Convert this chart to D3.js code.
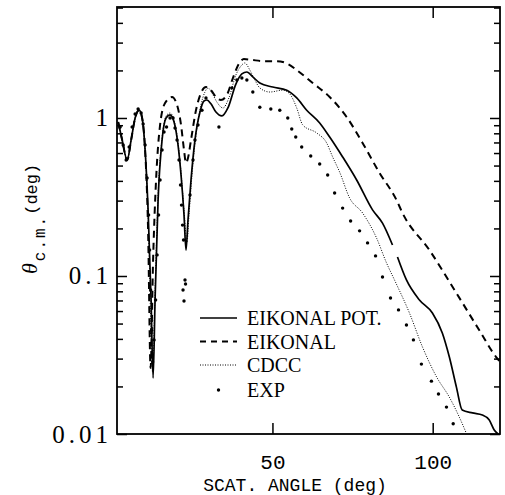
<!DOCTYPE html>
<html><head><meta charset="utf-8">
<script src="https://cdn.jsdelivr.net/npm/d3@7"></script>
<style>body{margin:0;background:#fff}svg{display:block}</style>
</head><body>
<script>
// ---- data ----
const potDeg = [1.87,3.11,4.67,5.91,7.16,8.40,9.34,10.27,11.20,12.14,12.76,13.38,14.32,15.56,16.81,18.05,19.30,20.54,21.48,22.41,23.03,23.65,24.59,25.83,27.39,28.63,29.57,30.81,32.37,34.24,36.10,38.59,40.46,42.02,43.88,46.06,50.11,54.47,57.58,60.69,64.74,67.86,71.90,76.28,81.23,84.34,87.46,88.2,89.01,91.81,95.86,99.91,103.0,105.2,107.4,109.2,112.4,115.5,117.6,119.2,120.4];
const potVal = [0.943,0.726,0.542,0.726,1.0,1.12,1.0,0.627,0.262,0.0705,0.0226,0.0705,0.303,0.726,1.0,1.045,0.943,0.675,0.436,0.243,0.146,0.226,0.405,0.726,1.09,1.28,1.30,1.23,1.09,1.03,1.157,1.64,1.90,1.955,1.82,1.665,1.57,1.50,1.34,1.12,0.93,0.758,0.567,0.405,0.262,0.216,0.157,null,0.132,0.0944,0.0705,0.0583,0.0436,0.0307,0.0198,0.0142,0.0136,0.0132,0.0123,0.0106,0.01];

const eikDeg = [1.87,3.11,4.67,5.91,7.16,8.40,9.34,10.27,11.20,11.98,12.76,13.69,14.94,16.50,18.67,20.23,21.48,22.41,23.03,23.65,24.59,26.14,27.70,29.26,30.81,32.37,33.92,35.79,37.66,39.53,41.08,43.57,47.62,51.35,54.78,57.58,62.56,67.86,73.14,78.12,83.41,88.70,90.57,98.97,107.4,114.5,119.8,120.8];
const eikVal = [0.943,0.726,0.542,0.726,1.0,1.12,1.0,0.627,0.195,0.0262,0.126,0.405,0.903,1.244,1.358,1.21,0.903,0.627,0.519,0.558,0.726,1.12,1.44,1.57,1.50,1.358,1.30,1.40,1.79,2.20,2.36,2.33,2.29,2.29,2.20,2.01,1.665,1.358,1.015,0.695,0.449,0.303,0.2505,0.146,0.078,0.0455,0.0307,0.029];

const cdccDeg = [1.87,3.11,4.67,5.91,7.16,8.40,9.34,10.27,11.20,12.61,13.38,14.32,15.56,16.81,18.05,19.30,20.54,21.48,22.41,23.34,23.97,24.90,26.14,27.70,28.94,29.88,31.12,32.68,34.55,36.41,38.59,40.15,41.39,42.95,44.51,46.06,49.18,53.22,55.40,57.58,59.45,63.80,66.91,68.78,70.96,74.07,78.12,82.48,85.59,88.08,92.75,96.80,101.2,105.2,108.3,110.5];
const cdccVal = [0.943,0.726,0.542,0.726,1.0,1.12,1.0,0.627,0.243,0.0247,0.0815,0.326,0.747,1.03,1.075,0.971,0.695,0.455,0.262,0.164,0.243,0.436,0.78,1.21,1.46,1.55,1.44,1.26,1.157,1.34,1.87,2.13,2.23,2.01,1.74,1.55,1.46,1.50,1.42,1.157,0.903,0.804,0.695,0.567,0.455,0.312,0.2505,0.174,0.121,0.0944,0.0583,0.0356,0.023,0.0171,0.0128,0.0101];

const expDeg = [2.49,3.42,4.36,5.29,6.22,7.16,8.09,9.03,9.65,10.27,10.89,11.36,11.67,11.98,12.29,12.61,13.07,13.54,14.01,14.47,14.94,15.56,16.18,16.96,18.05,18.99,19.61,20.23,20.85,21.32,21.63,21.94,22.26,22.72,22.88,22.10,22.41,24.28,25.21,25.83,26.77,28.01,29.26,33.30,37.35,38.90,40.46,42.02,43.88,46.06,49.49,52.29,54.78,56.02,57.27,59.13,61.94,64.74,67.23,69.40,71.90,74.39,77.19,79.68,82.17,84.34,86.84,89.33,91.81,93.99,96.48,99.60,101.8,104.3,106.4];
const expVal = [0.877,0.675,0.542,0.655,0.877,1.06,1.14,1.075,0.916,0.675,0.417,0.243,0.146,0.0815,0.0455,0.0286,0.0394,0.0705,0.136,0.243,0.405,0.627,0.815,0.877,1.0,1.0,0.864,0.726,0.542,0.377,0.281,0.21,0.169,0.0944,0.089,0.0815,0.0695,0.326,0.542,0.726,0.903,1.12,1.34,0.877,1.55,1.74,1.79,1.74,1.46,1.17,1.14,1.12,1.0,0.852,0.758,0.655,0.575,0.512,0.436,0.335,0.269,0.223,0.193,0.162,0.134,0.0986,0.0726,0.061,0.049,0.0394,0.0277,0.0216,0.0179,0.0148,0.0116];

const xTicks = [50, 100];
const yMajorTicks = [0.01, 0.1, 1];
const yTickLabels = ["0.01", "0.1", "1"];
const legendLabels = ["EIKONAL POT.", "EIKONAL", "CDCC", "EXP"];

// ---- drawing ----
const W = 505, H = 495;
const L = 117, R = 500, T = 7, B = 434;
const svg = d3.select("body").append("svg").attr("width", W).attr("height", H);

const x = d3.scaleLinear().domain([1.5, 121]).range([L, R]);
const y = d3.scaleLog().domain([0.01, 5.04]).range([B, T]);

const toPts = (xs, ys) => xs.map((d, i) => [d, ys[i]]);
svg.append("clipPath").attr("id", "c").append("rect")
  .attr("x", L).attr("y", T).attr("width", R - L).attr("height", B - T);
const g = svg.append("g").attr("clip-path", "url(#c)");

const line = d3.line()
  .defined(d => d[1] != null)
  .x(d => x(d[0])).y(d => y(d[1]))
  .curve(d3.curveMonotoneX);

g.append("path").datum(toPts(potDeg, potVal)).attr("d", line)
  .attr("fill", "none").attr("stroke", "#000").attr("stroke-width", 1.7);
g.append("path").datum(toPts(eikDeg, eikVal)).attr("d", line)
  .attr("fill", "none").attr("stroke", "#000").attr("stroke-width", 2)
  .attr("stroke-dasharray", "7,5");
g.append("path").datum(toPts(cdccDeg, cdccVal)).attr("d", line)
  .attr("fill", "none").attr("stroke", "#000").attr("stroke-width", 1)
  .attr("stroke-dasharray", "1,1.5");
g.selectAll("circle.exp").data(toPts(expDeg, expVal)).join("circle")
  .attr("class", "exp").attr("cx", d => x(d[0])).attr("cy", d => y(d[1]))
  .attr("r", 1.7).attr("fill", "#000");

// frame
svg.append("rect").attr("x", L).attr("y", T).attr("width", R - L).attr("height", B - T)
  .attr("fill", "none").attr("stroke", "#000").attr("stroke-width", 1.8);

// y minor ticks
const yMinor = [];
[0.01, 0.1, 1].forEach(dec => { for (let k = 2; k <= 9; k++) { const v = dec * k; if (v <= 5.04) yMinor.push(v); } });

function styleAxis(sel) {
  sel.select(".domain").remove();
  sel.selectAll(".tick line").attr("stroke", "#000").attr("stroke-width", 1.5);
}
// left
svg.append("g").attr("transform", `translate(${L},0)`)
  .call(d3.axisLeft(y).tickValues(yMinor).tickSize(-6).tickFormat(""))
  .call(styleAxis);
svg.append("g").attr("transform", `translate(${L},0)`)
  .call(d3.axisLeft(y).tickValues(yMajorTicks).tickSize(-10).tickPadding(5)
    .tickFormat((d, i) => yTickLabels[i]))
  .call(styleAxis)
  .call(s => s.selectAll("text").attr("font-family", "Liberation Serif, serif")
    .attr("font-size", 25).attr("fill", "#000").attr("letter-spacing", 4));
// right
svg.append("g").attr("transform", `translate(${R},0)`)
  .call(d3.axisRight(y).tickValues(yMinor).tickSize(-6).tickFormat(""))
  .call(styleAxis);
svg.append("g").attr("transform", `translate(${R},0)`)
  .call(d3.axisRight(y).tickValues(yMajorTicks).tickSize(-10).tickFormat(""))
  .call(styleAxis);
// bottom
svg.append("g").attr("transform", `translate(0,${B})`)
  .call(d3.axisBottom(x).tickValues(xTicks).tickSize(-11).tickPadding(20))
  .call(styleAxis)
  .call(s => s.selectAll("text").attr("font-family", "Liberation Mono, monospace")
    .attr("font-size", 21).attr("fill", "#000"));
// top
svg.append("g").attr("transform", `translate(0,${T})`)
  .call(d3.axisTop(x).tickValues(xTicks).tickSize(-11).tickFormat(""))
  .call(styleAxis);

// axis titles
svg.append("text").attr("x", 295).attr("y", 491).attr("text-anchor", "middle")
  .attr("font-family", "Liberation Mono, monospace").attr("font-size", 18)
  .text("SCAT. ANGLE (deg)");

const yt = svg.append("text").attr("transform", "translate(37,274) rotate(-90)");
yt.append("tspan").attr("font-family", "Liberation Serif, serif").attr("font-style", "italic")
  .attr("font-size", 22).text("θ");
yt.append("tspan").attr("font-family", "Liberation Mono, monospace").attr("font-size", 16)
  .attr("dy", 8).attr("dx", 2).attr("letter-spacing", 2).text("c.m.");
yt.append("tspan").attr("font-family", "Liberation Mono, monospace").attr("font-size", 17)
  .attr("dy", -8).attr("dx", 0).text("(deg)");

// legend
const legY = [318, 341.5, 365, 390];
const lx0 = 200, lx1 = 237;
const lg = svg.append("g");
lg.append("line").attr("x1", lx0).attr("x2", lx1).attr("y1", legY[0]).attr("y2", legY[0])
  .attr("stroke", "#000").attr("stroke-width", 1.7);
lg.append("line").attr("x1", lx0).attr("x2", lx1).attr("y1", legY[1]).attr("y2", legY[1])
  .attr("stroke", "#000").attr("stroke-width", 2).attr("stroke-dasharray", "6,5");
lg.append("line").attr("x1", lx0).attr("x2", lx1).attr("y1", legY[2]).attr("y2", legY[2])
  .attr("stroke", "#000").attr("stroke-width", 1).attr("stroke-dasharray", "1,1.5");
lg.append("circle").attr("cx", (lx0 + lx1) / 2).attr("cy", legY[3]).attr("r", 1.7).attr("fill", "#000");
legendLabels.forEach((t, i) => {
  lg.append("text").attr("x", 247).attr("y", legY[i] + 7)
    .attr("font-family", "Liberation Serif, serif").attr("font-size", 20).text(t);
});
</script>
</body></html>
